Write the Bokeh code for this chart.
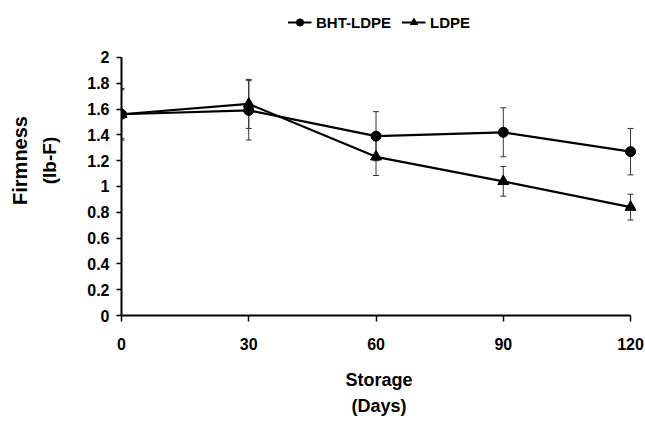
from bokeh.plotting import figure
from bokeh.models import (Range1d, FixedTicker, CustomJSTickFormatter, Legend, LegendItem,
                          Title, Whisker, ColumnDataSource, TeeHead)
from bokeh.embed import file_html
from bokeh.resources import INLINE

days = [0, 30, 60, 90, 120]
bht_ldpe = [1.56, 1.59, 1.39, 1.42, 1.27]
bht_ldpe_err = [0.20, 0.23, 0.19, 0.19, 0.18]
ldpe = [1.56, 1.64, 1.23, 1.04, 0.84]
ldpe_err = [0.19, 0.19, 0.145, 0.115, 0.10]
y_ticks = [0, 0.2, 0.4, 0.6, 0.8, 1.0, 1.2, 1.4, 1.6, 1.8, 2.0]
x_ticks = [0, 30, 60, 90, 120]

FONT = "Liberation Sans"

p = figure(width=645, height=422, output_backend="svg", toolbar_location=None,
           x_range=Range1d(0, 121.4), y_range=Range1d(0, 2.403),
           min_border_left=118, min_border_right=9, min_border_top=5, min_border_bottom=107)
p.outline_line_color = None
p.xgrid.visible = False
p.ygrid.visible = False

src_b = ColumnDataSource(dict(x=days, y=bht_ldpe,
                              lo=[v - e for v, e in zip(bht_ldpe, bht_ldpe_err)],
                              hi=[v + e for v, e in zip(bht_ldpe, bht_ldpe_err)]))
src_l = ColumnDataSource(dict(x=days, y=ldpe,
                              lo=[v - e for v, e in zip(ldpe, ldpe_err)],
                              hi=[v + e for v, e in zip(ldpe, ldpe_err)]))

for src in (src_b, src_l):
    w = Whisker(source=src, base="x", lower="lo", upper="hi", line_color="#333333", line_width=1,
                lower_head=TeeHead(size=6, line_color="#333333", line_width=1),
                upper_head=TeeHead(size=6, line_color="#333333", line_width=1))
    p.add_layout(w)

lb = p.line("x", "y", source=src_b, line_color="black", line_width=2.2)
sb = p.scatter("x", "y", source=src_b, marker="circle", size=10, fill_color="black", line_color="black")
ll = p.line("x", "y", source=src_l, line_color="black", line_width=2.2)
sl = p.scatter("x", "y", source=src_l, marker="triangle", size=11, fill_color="black", line_color="black")

# axes
xa = p.xaxis[0]
xa.ticker = FixedTicker(ticks=x_ticks)
xa.bounds = (0, 120)
xa.axis_line_width = 2
xa.axis_line_color = "black"
xa.major_tick_line_width = 1.5
xa.major_tick_line_color = "black"
xa.major_tick_in = 0
xa.major_tick_out = 6
xa.minor_tick_line_color = None
xa.major_label_standoff = 16
xa.major_label_text_font = FONT
xa.major_label_text_font_style = "bold"
xa.major_label_text_font_size = "16px"
xa.major_label_text_color = "black"
xa.axis_label = "Storage"
xa.axis_label_text_font = FONT
xa.axis_label_text_font_style = "bold"
xa.axis_label_text_font_size = "18px"
xa.axis_label_text_color = "black"
xa.axis_label_standoff = 17

ya = p.yaxis[0]
ya.ticker = FixedTicker(ticks=y_ticks)
ya.bounds = (0, 2)
ya.formatter = CustomJSTickFormatter(code="return String(Number(tick.toFixed(1)));")
ya.axis_line_width = 2
ya.axis_line_color = "black"
ya.major_tick_line_width = 1.5
ya.major_tick_line_color = "black"
ya.major_tick_in = 0
ya.major_tick_out = 5
ya.minor_tick_line_color = None
ya.major_label_standoff = 7
ya.major_label_text_font = FONT
ya.major_label_text_font_style = "bold"
ya.major_label_text_font_size = "16px"
ya.major_label_text_color = "black"
ya.axis_label = "(lb-F)"
ya.axis_label_text_font = FONT
ya.axis_label_text_font_style = "bold"
ya.axis_label_text_font_size = "19px"
ya.axis_label_text_color = "black"
ya.axis_label_standoff = 24

t_days = Title(text="(Days)", align="center", text_font=FONT, text_font_style="bold",
               text_font_size="18px", text_color="black", standoff=3)
p.add_layout(t_days, "below")
t_firm = Title(text="Firmness", align="center", text_font=FONT, text_font_style="bold",
               text_font_size="20px", text_color="black", standoff=12)
p.add_layout(t_firm, "left")

legend = Legend(items=[LegendItem(label="BHT-LDPE", renderers=[lb, sb]),
                       LegendItem(label="LDPE", renderers=[ll, sl])],
                orientation="horizontal", location="top_center",
                border_line_color=None, background_fill_alpha=0,
                padding=0, margin=8, spacing=10, label_standoff=5,
                glyph_width=24, glyph_height=18, label_height=18,
                label_text_font=FONT, label_text_font_style="bold", label_text_font_size="15px",
                label_text_color="black")
p.add_layout(legend, "center")

open("out.html", "w").write(file_html(p, INLINE))
